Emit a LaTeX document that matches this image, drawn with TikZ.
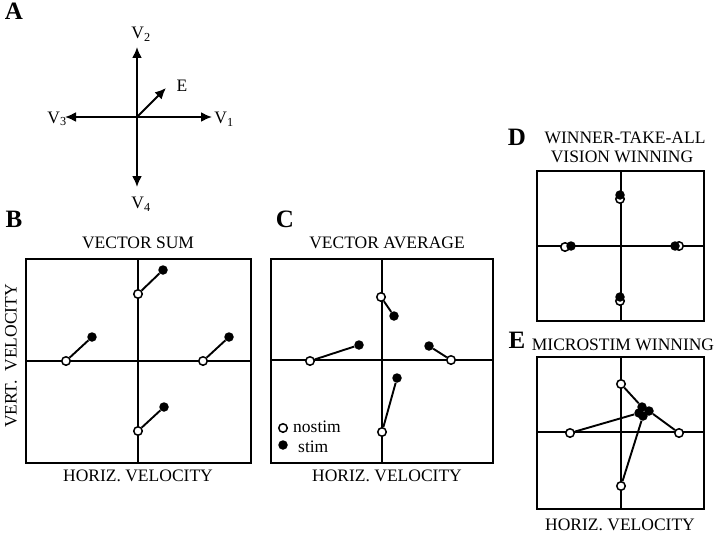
\documentclass[tikz,border=0pt]{standalone}
\usepackage{fontspec}
\setmainfont{Liberation Serif}
\usetikzlibrary{arrows.meta}
\newlength{\du}
\setlength{\du}{1pt}
\tikzset{
  nostim/.style={circle,draw=black,fill=white,line width=1.5\du,inner sep=0pt,minimum size=8.5\du},
  stim/.style={circle,fill=black,inner sep=0pt,minimum size=9.5\du},
  shiftline/.style={line width=1.9\du},
  plotframe/.style={line width=2.2\du},
  plotaxis/.style={line width=1.1\du},
  panelletter/.style={font=\fontsize{25}{25}\selectfont\bfseries},
  paneltext/.style={font=\fontsize{17.5}{17.5}\selectfont,inner sep=0pt},
  vecarrow/.style={line width=2\du,-{Latex[length=11pt,width=10pt]}},
}
\begin{document}
\begin{tikzpicture}
\pgftransformxscale{1.000000}
\pgftransformyscale{-1.000000}
\useasboundingbox (0\du,0\du) rectangle (720\du,535\du);
% panel letters
\node[panelletter] (la) at (14\du,11\du){A};
\node[panelletter] (lb) at (14\du,219\du){B};
\node[panelletter] (lc) at (285\du,219\du){C};
\node[panelletter] (ld) at (517\du,137\du){D};
\node[panelletter] (le) at (517\du,340\du){E};
% A: direction vectors
\coordinate (o) at (137\du,117\du);
\coordinate (v1) at (212\du,117\du);
\coordinate (v2) at (137\du,47\du);
\coordinate (v3) at (65\du,117\du);
\coordinate (v4) at (137\du,187\du);
\coordinate (ve) at (166\du,88\du);
\draw[vecarrow] (o)--(v1);
\draw[vecarrow] (o)--(v2);
\draw[vecarrow] (o)--(v3);
\draw[vecarrow] (o)--(v4);
\draw[vecarrow] (o)--(ve);
\node[paneltext] (tv1) at (224\du,119\du){V\textsubscript{1}};
\node[paneltext] (tv2) at (141\du,34\du){V\textsubscript{2}};
\node[paneltext] (tv3) at (57\du,119\du){V\textsubscript{3}};
\node[paneltext] (tv4) at (141\du,204\du){V\textsubscript{4}};
\node[paneltext] (te) at (182\du,86\du){E};
% B: vector sum
\draw[plotframe] (26\du,259\du)--(26\du,463\du)--(251\du,463\du)--(251\du,259\du)--cycle;
\draw[plotaxis] (138\du,259\du)--(138\du,463\du);
\draw[plotaxis] (26\du,361\du)--(251\du,361\du);
\node[paneltext] (tb) at (138\du,243\du){VECTOR SUM};
\node[paneltext] (hb) at (138\du,476\du){HORIZ. VELOCITY};
\node[paneltext,rotate=90] (vb) at (11\du,356\du){VERT.\ \ VELOCITY};
\node[nostim] (b1o) at (138\du,294\du){};
\node[stim] (b1s) at (163\du,270\du){};
\node[nostim] (b2o) at (66\du,361\du){};
\node[stim] (b2s) at (92\du,337\du){};
\node[nostim] (b3o) at (203\du,361\du){};
\node[stim] (b3s) at (229\du,337\du){};
\node[nostim] (b4o) at (138\du,431\du){};
\node[stim] (b4s) at (164\du,407\du){};
\draw[shiftline] (b1o)--(b1s);
\draw[shiftline] (b2o)--(b2s);
\draw[shiftline] (b3o)--(b3s);
\draw[shiftline] (b4o)--(b4s);
% C: vector average
\draw[plotframe] (271\du,259\du)--(271\du,463\du)--(493\du,463\du)--(493\du,259\du)--cycle;
\draw[plotaxis] (382\du,259\du)--(382\du,463\du);
\draw[plotaxis] (271\du,360\du)--(493\du,360\du);
\node[paneltext] (tc) at (387\du,243\du){VECTOR AVERAGE};
\node[paneltext] (hc) at (387\du,476\du){HORIZ. VELOCITY};
\node[nostim] (c1o) at (381\du,297\du){};
\node[stim] (c1s) at (394\du,316\du){};
\node[nostim] (c2o) at (310\du,361\du){};
\node[stim] (c2s) at (359\du,345\du){};
\node[nostim] (c3o) at (451\du,360\du){};
\node[stim] (c3s) at (429\du,346\du){};
\node[nostim] (c4o) at (382\du,432\du){};
\node[stim] (c4s) at (397\du,378\du){};
\draw[shiftline] (c1o)--(c1s);
\draw[shiftline] (c2o)--(c2s);
\draw[shiftline] (c3o)--(c3s);
\draw[shiftline] (c4o)--(c4s);
% legend
\node[nostim] (kno) at (283\du,428\du){};
\node[paneltext,anchor=west] (tno) at (293\du,427\du){nostim};
\node[stim] (kst) at (283\du,445\du){};
\node[paneltext,anchor=west] (tst) at (298\du,447\du){stim};
% D: winner-take-all
\draw[plotframe] (537\du,171\du)--(537\du,321\du)--(704\du,321\du)--(704\du,171\du)--cycle;
\draw[plotaxis] (621\du,171\du)--(621\du,321\du);
\draw[plotaxis] (537\du,246\du)--(704\du,246\du);
\node[paneltext] (td1) at (625\du,138\du){WINNER-TAKE-ALL};
\node[paneltext] (td2) at (622\du,157\du){VISION WINNING};
\node[nostim] (d1o) at (620\du,199\du){};
\node[stim] (d1s) at (620\du,195\du){};
\node[nostim] (d2o) at (565\du,247\du){};
\node[stim] (d2s) at (571\du,246\du){};
\node[nostim] (d3o) at (679\du,246\du){};
\node[stim] (d3s) at (675\du,246\du){};
\node[nostim] (d4o) at (620\du,301\du){};
\node[stim] (d4s) at (620\du,297\du){};
% E: microstim winning
\draw[plotframe] (537\du,357\du)--(537\du,509\du)--(704\du,509\du)--(704\du,357\du)--cycle;
\draw[plotaxis] (621\du,357\du)--(621\du,509\du);
\draw[plotaxis] (537\du,432\du)--(704\du,432\du);
\node[paneltext] (te1) at (623\du,345\du){MICROSTIM WINNING};
\node[paneltext] (he) at (620\du,525\du){HORIZ. VELOCITY};
\node[nostim] (e1o) at (621\du,384\du){};
\node[stim] (e1s) at (642\du,407\du){};
\node[nostim] (e2o) at (570\du,433\du){};
\node[stim] (e2s) at (639\du,413\du){};
\node[nostim] (e3o) at (679\du,433\du){};
\node[stim] (e3s) at (649\du,411\du){};
\node[nostim] (e4o) at (621\du,486\du){};
\node[stim] (e4s) at (643\du,416\du){};
\draw[shiftline] (e1o)--(e1s);
\draw[shiftline] (e2o)--(e2s);
\draw[shiftline] (e3o)--(e3s);
\draw[shiftline] (e4o)--(e4s);
\end{tikzpicture}
\end{document}
